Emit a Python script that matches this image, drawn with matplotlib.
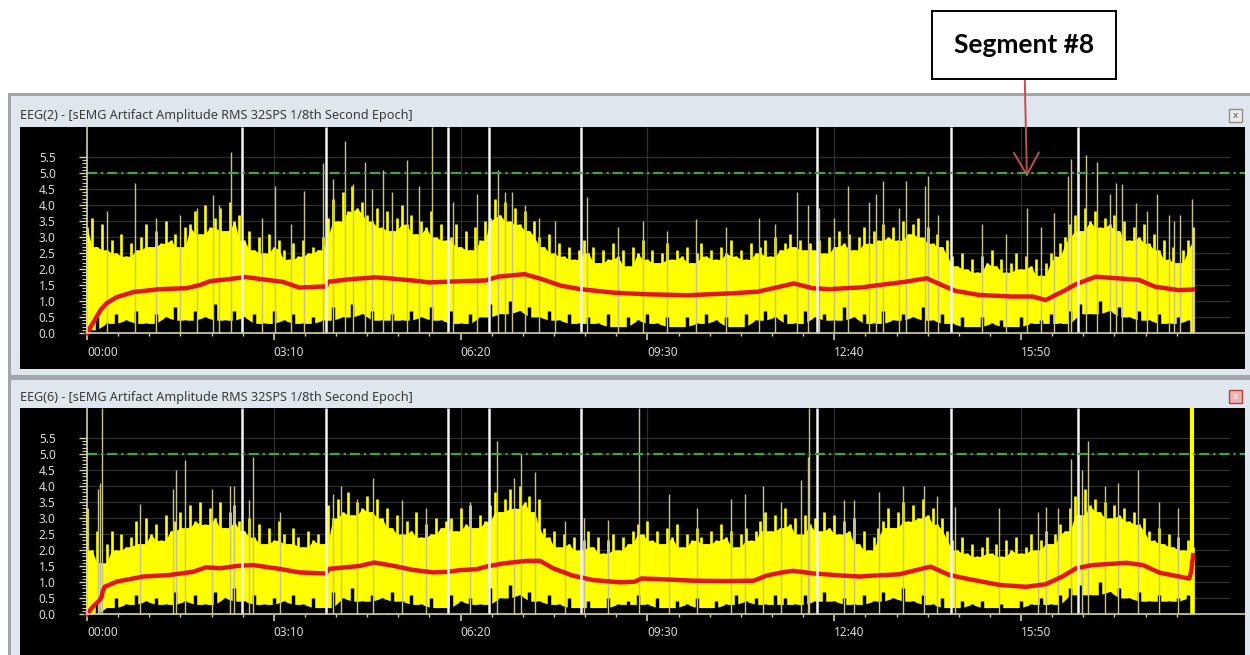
import numpy as np
import matplotlib
matplotlib.use('Agg')
import matplotlib.pyplot as plt
from matplotlib.patches import Rectangle
from matplotlib.ticker import FormatStrFormatter

plt.rcParams['font.family'] = ['Noto Sans', 'DejaVu Sans']

# ── Data ───────────────────────────────────────────────────────────────────
# Envelope of the RMS trace: top of the dense band every 5 s, floor every 10 s
STEP_UP = 5
STEP_LO = 10

time_ticks = [0, 190, 380, 570, 760, 950]
time_labels = ['00:00', '03:10', '06:20', '09:30', '12:40', '15:50']
segment_marks = [158, 243, 367, 409, 502, 742, 879, 1008]
threshold = 5.0
seg8_t, seg8_v = 956, 4.88

# EEG(2)
eeg2_upper = [
    3.3, 3.6, 2.7, 3.4, 2.6,
    2.9, 2.5, 3.1, 2.4, 2.8, 2.6,
    3.0, 3.4, 2.7, 3.2, 2.8, 3.5, 2.9, 3.1, 2.7, 3.3,
    3.4, 3.8, 3.1, 4.0, 3.3, 3.6, 3.9, 3.2, 4.1, 3.5, 3.7,
    2.9, 3.2, 2.6, 3.0, 2.5, 3.1, 2.7, 2.9,
    2.6, 2.3, 2.8, 2.4, 2.9, 2.5, 2.7, 2.6, 3.0,
    3.6, 4.2, 3.5, 4.4, 3.8, 4.6, 3.9, 4.1, 3.7,
    3.5, 3.9, 3.3, 3.8, 3.2, 3.6, 4.0, 3.4, 3.7, 3.1, 3.5,
    3.3, 3.8, 3.0, 3.4, 2.9,
    3.0, 3.4, 2.7, 3.2, 2.6, 3.3, 2.9, 3.5,
    3.6, 4.2, 3.7, 4.1, 3.5, 3.9, 3.4, 3.8, 3.2, 3.5,
    3.0, 2.7, 3.1, 2.5, 2.8, 2.4, 2.7, 2.3, 2.6,
    2.9, 2.5, 2.7, 2.2, 2.6, 2.3, 2.8, 2.4, 2.6, 2.1,
    2.7, 2.5, 2.9, 2.3, 2.6, 2.2, 2.5, 2.8, 2.3, 2.6,
    2.4, 2.7, 2.2, 2.5, 2.8, 2.4, 2.6, 2.3, 2.7, 2.5,
    2.9, 2.4, 2.6, 2.3, 2.8, 2.5, 2.7, 2.9, 2.4, 3.0,
    2.6, 2.8, 3.1, 2.7, 2.9, 2.6, 2.8,
    2.6, 2.9, 2.5, 3.0, 2.7, 3.2, 2.8, 3.1, 2.6, 3.0,
    3.3, 2.8, 3.2, 2.9, 3.4, 3.0, 3.3, 2.9, 3.5, 3.1,
    3.4, 3.6, 3.0, 3.3, 2.8, 3.1, 2.7, 2.9,
    2.4, 2.1, 2.5, 2.0, 2.3, 1.9, 2.4, 2.2, 2.6, 2.1,
    2.3, 1.9, 2.2, 2.5, 2.0, 2.4, 2.1, 2.3, 1.8, 2.2,
    2.5, 2.4, 2.8,
    3.0, 3.4, 3.7, 3.2, 3.9, 3.5, 3.8, 3.3, 3.6, 3.4, 3.7,
    3.2, 3.5, 2.9, 3.3, 3.0, 3.4, 2.8, 3.1,
    2.6, 2.9, 2.3, 2.7, 2.2, 2.6, 2.9, 3.3,
]
eeg2_lower = [
    0.1, 0.5, 0.3, 0.6, 0.4, 0.7, 0.3, 0.6, 0.5, 0.8, 0.4,
    0.7, 0.5, 0.9, 0.4, 0.7, 0.5, 0.6, 0.3, 0.7, 0.4,
    0.6, 0.3, 0.5, 0.4, 0.8, 0.5, 0.9, 0.6, 0.7, 0.4,
    0.6, 0.4, 0.7, 0.5, 0.8, 0.4, 0.7, 0.3, 0.6, 0.5,
    0.9, 0.6, 1.0, 0.7, 0.8, 0.5, 0.7, 0.4, 0.6, 0.3,
    0.5, 0.3, 0.6, 0.2, 0.5, 0.4, 0.6, 0.3, 0.5, 0.2,
    0.5, 0.3, 0.6, 0.4, 0.5, 0.2, 0.6, 0.4, 0.7, 0.5,
    0.6, 0.3, 0.7, 0.5, 0.6, 0.4, 0.8, 0.5, 0.6, 0.3,
    0.7, 0.4, 0.6, 0.5, 0.8, 0.4, 0.6, 0.3, 0.5, 0.2,
    0.5, 0.3, 0.4, 0.2, 0.5, 0.3, 0.4, 0.6, 0.3, 0.7,
    0.9, 0.6, 1.0, 0.7, 0.8, 0.5, 0.7, 0.4, 0.6, 0.3, 0.5, 0.4,
]
eeg2_trend_t = [0, 6, 14, 20, 30, 47, 74, 101, 115, 125, 149, 161, 183, 199,
                216, 237, 243, 245, 267, 294, 318, 338, 348, 380, 405, 418,
                445, 462, 482, 502, 536, 570, 611, 655, 682, 705, 719, 738,
                755, 789, 806, 832, 854, 873, 883, 907, 941, 962, 975, 995,
                1006, 1026, 1070, 1086, 1110, 1125]
eeg2_trend = [0.0, 0.31, 0.73, 0.93, 1.12, 1.28, 1.37, 1.40, 1.50, 1.62, 1.70,
              1.75, 1.66, 1.60, 1.42, 1.45, 1.45, 1.60, 1.68, 1.74, 1.68, 1.62,
              1.58, 1.62, 1.64, 1.76, 1.84, 1.69, 1.48, 1.37, 1.26, 1.21, 1.18,
              1.24, 1.29, 1.45, 1.55, 1.40, 1.37, 1.43, 1.50, 1.60, 1.71, 1.45,
              1.32, 1.19, 1.14, 1.14, 1.03, 1.34, 1.53, 1.76, 1.66, 1.45, 1.34,
              1.36]
eeg2_spike_t = [20, 49, 70, 95, 112, 128, 134, 146, 178, 191, 207, 221, 240,
                250, 262, 271, 283, 290, 301, 310, 325, 338, 351, 372, 397,
                418, 425, 432, 445, 460, 476, 509, 540, 565, 590, 619, 650,
                683, 700, 722, 733, 745, 760, 774, 795, 802, 810, 826, 833,
                852, 855, 866, 910, 935, 956, 970, 984, 998, 1001, 1016, 1027,
                1040, 1047, 1053, 1067, 1078, 1088, 1100, 1106, 1112, 1124]
eeg2_spike_h = [3.8, 4.7, 3.6, 3.7, 3.9, 4.3, 4.0, 5.65, 3.6, 4.6, 3.4, 4.45,
                5.3, 4.8, 6.0, 4.65, 5.35, 4.5, 5.1, 4.4, 5.4, 4.6, 6.44, 4.1,
                4.35, 5.1, 4.4, 4.4, 4.0, 3.6, 3.5, 4.25, 3.3, 3.5, 3.2, 3.55,
                3.3, 3.6, 3.4, 4.4, 4.0, 3.9, 3.6, 4.6, 4.1, 4.35, 4.75, 3.9,
                4.75, 4.6, 4.9, 3.7, 3.4, 3.1, 3.9, 3.3, 3.75, 4.9, 5.45, 5.55,
                5.35, 4.35, 4.7, 4.65, 4.05, 3.8, 4.35, 3.7, 3.5, 3.7, 4.2]

# EEG(6)
eeg6_upper = [
    3.3, 2.0, 2.6, 1.6,
    2.2, 2.6, 2.0, 2.5, 2.1,
    2.4, 2.9, 2.2, 3.0, 2.5, 2.8, 2.3, 3.1, 2.6, 2.9,
    3.2, 2.7, 3.4, 2.9, 3.5, 2.8, 3.3, 3.0, 3.5, 2.7, 3.2, 3.4, 2.9,
    2.6, 3.0, 2.4, 2.8, 2.2, 2.7, 2.3, 2.9, 2.5, 2.2, 2.7, 2.4, 2.1, 2.6,
    2.3, 2.5, 2.2,
    3.4, 3.0, 3.6, 3.2, 3.8, 3.1, 3.5, 3.3, 3.7, 3.2, 3.6,
    3.0, 3.3, 2.7, 3.1, 2.5, 2.9, 2.6, 3.2, 2.4, 2.8, 2.5, 3.0, 2.7, 2.9,
    3.0, 2.6, 3.3, 2.8, 3.4, 2.7, 3.1, 2.9,
    3.4, 3.8, 3.2, 3.6, 3.9, 3.3, 4.0, 3.5, 3.7, 3.2, 3.6,
    2.7, 2.4, 2.6, 2.1, 2.5, 2.2, 2.4, 2.0, 2.3, 2.6,
    2.1, 2.4, 1.9, 2.3, 2.5, 2.0, 2.4, 2.2, 2.6,
    2.8, 2.5, 2.9, 2.3, 2.6, 2.2, 2.7, 2.4, 2.8, 2.1,
    2.5, 2.3, 2.7, 2.4, 2.2, 2.6, 2.3, 2.8, 2.4, 2.6,
    2.1, 2.5, 2.7, 2.3, 2.6,
    2.9, 3.2, 2.6, 3.1, 2.7, 3.3, 2.8, 3.0, 2.5, 3.1, 2.8,
    3.0, 2.6, 3.2, 2.7, 3.1, 2.5, 2.9, 2.6, 3.0,
    2.2, 2.6, 2.0, 2.4, 2.7,
    2.9, 3.3, 2.7, 3.2, 3.5, 2.9, 3.4, 3.0, 3.6, 3.1, 3.3, 2.8, 3.0, 2.6,
    2.3, 2.0, 2.4, 1.9, 2.2, 1.8, 2.1, 2.4, 1.9, 2.2,
    1.8, 2.3, 2.0, 2.4, 1.9, 2.1, 2.5, 2.0, 2.3, 2.6,
    2.2, 2.5, 2.8, 2.6,
    3.3, 3.7, 3.1, 3.9, 3.4, 3.6, 3.2, 3.5, 3.0, 3.4, 3.1, 3.3, 2.9, 3.2,
    2.8, 3.0,
    2.6, 2.3, 2.7, 2.2, 2.5, 2.1, 2.4, 2.0, 2.3,
    2.1,
]
eeg6_lower = [
    0.0, 0.4, 0.2, 0.5, 0.3, 0.6, 0.4, 0.5, 0.3, 0.7, 0.4,
    0.6, 0.3, 0.7, 0.5, 0.8, 0.4, 0.6, 0.3, 0.5, 0.4,
    0.6, 0.3, 0.5, 0.2, 0.7, 0.5, 0.8, 0.4, 0.6, 0.5,
    0.7, 0.4, 0.6, 0.3, 0.5, 0.2, 0.6, 0.4, 0.5, 0.3,
    0.8, 0.5, 0.9, 0.6, 0.7, 0.4, 0.6, 0.3, 0.5, 0.2,
    0.4, 0.2, 0.5, 0.3, 0.4, 0.6, 0.3, 0.5, 0.2, 0.4,
    0.3, 0.5, 0.2, 0.4, 0.3, 0.6, 0.4, 0.5, 0.3, 0.6,
    0.5, 0.3, 0.6, 0.4, 0.7, 0.4, 0.5, 0.3, 0.6, 0.4,
    0.7, 0.5, 0.8, 0.4, 0.6, 0.3, 0.5, 0.2, 0.4, 0.3,
    0.4, 0.2, 0.3, 0.2, 0.4, 0.3, 0.5, 0.3, 0.6, 0.8,
    0.9, 0.6, 1.0, 0.7, 0.8, 0.5, 0.7, 0.4, 0.6, 0.4, 0.5, 0.6,
]
eeg6_trend_t = [0, 6, 13, 15, 16, 18, 30, 57, 84, 108, 121, 135, 155, 169,
                196, 216, 240, 243, 246, 277, 292, 311, 331, 352, 367, 379,
                396, 406, 423, 447, 461, 474, 494, 515, 542, 557, 564, 583,
                617, 651, 678, 691, 705, 718, 738, 769, 786, 799, 826, 847,
                858, 877, 897, 928, 955, 975, 992, 1006, 1023, 1057, 1074,
                1091, 1111, 1121, 1123, 1125]
eeg6_trend = [0.0, 0.23, 0.44, 0.55, 0.70, 0.85, 1.01, 1.17, 1.22, 1.32, 1.46,
              1.43, 1.51, 1.53, 1.41, 1.30, 1.27, 1.27, 1.41, 1.50, 1.61, 1.51,
              1.38, 1.30, 1.32, 1.37, 1.40, 1.48, 1.58, 1.66, 1.66, 1.43, 1.20,
              1.06, 0.99, 1.01, 1.11, 1.09, 1.04, 1.03, 1.04, 1.20, 1.29, 1.35,
              1.27, 1.20, 1.17, 1.20, 1.24, 1.40, 1.48, 1.22, 1.09, 0.91, 0.85,
              0.93, 1.17, 1.43, 1.53, 1.60, 1.53, 1.29, 1.17, 1.11, 1.32, 1.84]
eeg6_spike_t = [11, 13, 15, 54, 87, 91, 100, 127, 145, 150, 165, 169, 196,
                250, 258, 275, 291, 320, 345, 390, 417, 434, 441, 456, 486,
                505, 530, 561, 592, 620, 655, 669, 688, 706, 726, 733, 734,
                770, 780, 806, 830, 851, 865, 883, 928, 967, 975, 988, 1001,
                1012, 1018, 1035, 1049, 1069, 1090, 1110]
eeg6_spike_h = [3.9, 4.1, 6.44, 3.45, 3.9, 4.5, 4.8, 3.9, 4.0, 4.0, 3.55, 4.9,
                3.2, 3.75, 4.0, 3.6, 4.25, 3.55, 3.3, 3.5, 5.4, 4.25, 5.0, 4.45,
                2.9, 3.0, 2.95, 6.44, 3.75, 3.3, 3.6, 3.75, 4.0, 3.5, 4.2, 4.9,
                6.44, 3.55, 3.55, 3.8, 4.0, 4.0, 3.7, 3.35, 3.3, 3.2, 3.35, 3.3,
                4.85, 4.5, 5.4, 4.0, 4.1, 4.5, 3.5, 3.3]
# burst at the very end of the EEG(6) record
eeg6_tail_t, eeg6_tail_lo, eeg6_tail_hi = 1124, 2.0, 6.44

# ── Layout (pixels) ────────────────────────────────────────────────────────
W, H = 1250, 655
PX_PER_S = 0.9832      # time axis scale
PX_PER_UNIT = 32.0     # amplitude axis scale
AXIS_X = 87            # pixel column of 00:00
PLOT_X0, PLOT_X1 = 20, 1245

fig = plt.figure(figsize=(W / 100, H / 100), dpi=100)
fig.patch.set_facecolor('white')


def px_axes(x0, y0, x1, y1):
    return fig.add_axes([x0 / W, 1 - y1 / H, (x1 - x0) / W, (y1 - y0) / H])


bg = px_axes(0, 0, W, H)
bg.set_xlim(0, W)
bg.set_ylim(H, 0)
bg.axis('off')


def window(y_top, y_bot, title_y, title, active):
    bg.add_patch(Rectangle((8, y_top), W - 8, y_bot - y_top, fc='#a2a5a9', ec='none'))
    bg.add_patch(Rectangle((11, y_top + 3), W - 11, y_bot - y_top - 6,
                           fc='#dfe6ee', ec='none'))
    bg.text(20, title_y, title, fontsize=9.1, color='#3a3a3a', va='center')
    fc, ec = ('#e9b3b3', '#b54040') if active else ('#ececec', '#8e8e8e')
    bg.add_patch(Rectangle((1229, title_y - 7), 13, 13, fc=fc, ec=ec, lw=1))
    bg.text(1235.5, title_y - 0.5, 'x', fontsize=7, fontweight='bold',
            color='#505050' if not active else '#ffffff', ha='center', va='center')


window(93, 378, 116, 'EEG(2) - [sEMG Artifact Amplitude RMS 32SPS 1/8th Second Epoch]', False)
window(377, H + 5, 397, 'EEG(6) - [sEMG Artifact Amplitude RMS 32SPS 1/8th Second Epoch]', True)


def neighbour_min(v):
    v = np.asarray(v, dtype=float)
    p = np.pad(v, 1, mode='edge')
    return np.minimum(np.minimum(p[:-2], p[1:-1]), p[2:])


def panel(top_px, bot_px, zero_px, upper, lower, trend_t, trend, spike_t, spike_h):
    ax = px_axes(PLOT_X0, top_px, PLOT_X1, bot_px)
    ax.set_facecolor('black')
    xmin = (PLOT_X0 - AXIS_X) / PX_PER_S
    xmax = (PLOT_X1 - AXIS_X) / PX_PER_S
    ybot = (zero_px - bot_px) / PX_PER_UNIT
    ytop = (zero_px - top_px) / PX_PER_UNIT
    ax.set_xlim(xmin, xmax)
    ax.set_ylim(ybot, ytop)

    grid_c = '#2f2f2f'
    ax.hlines(np.arange(0.5, 5.51, 0.5), 0, (1230 - AXIS_X) / PX_PER_S,
              color=grid_c, lw=0.9, zorder=1)
    ax.vlines(time_ticks[1:], 0, ytop, color=grid_c, lw=0.9, zorder=1)

    # dense band: solid core plus a comb of thin bars up to each sample
    t_up = np.arange(len(upper)) * STEP_UP
    t_lo = np.arange(len(lower)) * STEP_LO
    ax.fill_between(t_up, 0, neighbour_min(upper), color='#ffff00', lw=0, zorder=2)
    ax.vlines(t_up, 0, upper, color='#ffff00', lw=1.9, zorder=2)
    ax.fill_between(t_lo, 0, neighbour_min(lower), color='black', lw=0, zorder=2.1)
    ax.vlines(t_lo, 0, lower, color='black', lw=2.5, zorder=2.1)
    ax.vlines(spike_t, 0, spike_h, color='#c6c28a', lw=1.0, zorder=2.2)

    ax.plot(trend_t, trend, color='#e2141c', lw=3.2, zorder=3)
    ax.vlines(segment_marks, 0, ytop, color='#f4f4f4', lw=1.8, zorder=3.5)
    ax.axhline(threshold, xmin=(AXIS_X - PLOT_X0) / (PLOT_X1 - PLOT_X0),
               color='#45a04b', lw=1.6, ls=(0, (4.5, 1.8, 1.0, 1.8)), zorder=4)

    axis_c = '#cfcfa8'
    for side in ('top', 'right'):
        ax.spines[side].set_visible(False)
    ax.spines['left'].set_position(('data', 0))
    ax.spines['bottom'].set_position(('data', 0))
    ax.spines['left'].set_bounds(0, ytop)
    ax.spines['bottom'].set_bounds(0, xmax)
    for side in ('left', 'bottom'):
        ax.spines[side].set_color(axis_c)
        ax.spines[side].set_linewidth(1.2)
        ax.spines[side].set_zorder(5)

    ax.set_xticks(time_ticks, time_labels)
    ax.set_xticks(np.arange(0, 1112, 190 / 6), minor=True)
    ax.set_yticks(np.arange(0, 5.51, 0.5))
    ax.set_yticks(np.arange(0, 5.55, 0.1), minor=True)
    ax.yaxis.set_major_formatter(FormatStrFormatter('%.1f'))
    ax.tick_params(axis='both', which='both', color=axis_c, labelcolor='#dadada',
                   labelsize=8.5)
    ax.tick_params(axis='x', which='major', length=5, width=1.2, pad=4)
    ax.tick_params(axis='x', which='minor', length=2.5, width=1)
    ax.tick_params(axis='y', which='major', length=5.5, width=1, pad=17)
    ax.tick_params(axis='y', which='minor', length=3.5, width=0.8)
    for lbl in ax.get_xticklabels():
        lbl.set_ha('left')
    return ax


ax2 = panel(127, 369, 333, eeg2_upper, eeg2_lower, eeg2_trend_t, eeg2_trend,
            eeg2_spike_t, eeg2_spike_h)
ax6 = panel(408, H, 614, eeg6_upper, eeg6_lower, eeg6_trend_t, eeg6_trend,
            eeg6_spike_t, eeg6_spike_h)
ax6.vlines(eeg6_tail_t, eeg6_tail_lo, eeg6_tail_hi, color='#ffff00', lw=3, zorder=2.3)

ax2.annotate('Segment #8', xy=(seg8_t, seg8_v), xycoords='data',
             xytext=(1024, H - 45), textcoords='figure pixels',
             ha='center', va='center', fontsize=19, fontweight='bold',
             family=['Lato', 'DejaVu Sans'], color='black',
             bbox=dict(boxstyle='square,pad=0.85', fc='white', ec='black', lw=1.4),
             arrowprops=dict(arrowstyle='->,head_length=0.8,head_width=0.45',
                             color='#c0504d', lw=1.4, shrinkA=0, shrinkB=0,
                             mutation_scale=20))

fig.savefig('out.png', dpi=100, facecolor='white')
